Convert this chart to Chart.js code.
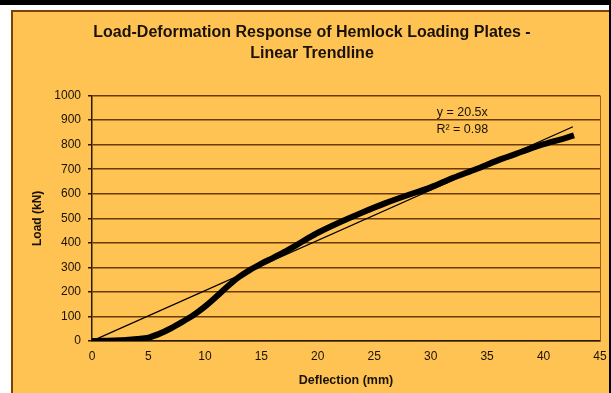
<!DOCTYPE html>
<html>
<head>
<meta charset="utf-8">
<script src="https://cdn.jsdelivr.net/npm/chart.js@4"></script>
<style>
  html, body { margin: 0; padding: 0; background: #fff; }
  #wrap { position: relative; width: 611px; height: 393px; overflow: hidden; }
  #topBand { position: absolute; left: 0; top: 0; width: 611px; height: 5px; background: #000; }
  #rightBand { position: absolute; left: 609px; top: 0; width: 2px; height: 393px; background: #000; }
  #box { position: absolute; left: 11px; top: 10px; width: 620px; height: 400px;
         background: #FFC354; border-left: 2px solid #7a4208; border-top: 2px solid #7a4208; }
  canvas { position: absolute; left: 0; top: 0; }
</style>
</head>
<body>
<div id="wrap">
  <div id="box"></div>
  <div id="topBand"></div>
  <div id="rightBand"></div>
  <canvas id="loadChart" width="611" height="393"></canvas>
</div>
<script>
const deflection = [0, 1, 2, 3, 4, 5, 6, 7, 8, 9, 10, 11, 12, 13, 14, 15, 16, 17, 18, 19, 20,
                    22, 24, 26, 28, 30, 32, 34, 36, 38, 40, 42, 42.7];
const load = [0, 1, 2, 4, 8, 14, 30, 52, 78, 106, 140, 180, 222, 260, 290, 315, 338, 362, 388, 415, 441,
              485, 525, 562, 595, 626, 665, 700, 737, 770, 802, 828, 838];

// Linear trendline y = 20.5x (end points)
const trendX = [0, 42.6];
const trendY = [0, 873];

const trendLabels = ['y = 20.5x', 'R² = 0.98'];
const labelX = [32.8, 32.8];
const labelY = [932, 863];

const xTicks = [0, 5, 10, 15, 20, 25, 30, 35, 40, 45];

const ctx = document.getElementById('loadChart').getContext('2d');
const textColor = '#1a1208';
const gridColor = '#6a3a05';
const fontFamily = '"Liberation Sans", Arial, sans-serif';

// Draws the trendline equation text at data coordinates
const equationPlugin = {
    id: 'equation',
    afterDatasetsDraw(chart) {
        const c = chart.ctx;
        const xs = chart.scales.x, ys = chart.scales.y;
        c.save();
        c.fillStyle = textColor;
        c.font = '12.5px ' + fontFamily;
        c.textAlign = 'center';
        c.textBaseline = 'middle';
        trendLabels.forEach((t, i) => {
            c.fillText(t, xs.getPixelForValue(labelX[i]), ys.getPixelForValue(labelY[i]));
        });
        c.restore();
    }
};

new Chart(ctx, {
    type: 'line',
    data: {
        datasets: [{
            label: 'Data',
            data: deflection.map((x, i) => ({ x: x, y: load[i] })),
            borderColor: '#000',
            borderWidth: 6,
            pointRadius: 0,
            cubicInterpolationMode: 'monotone',
            fill: false
        }, {
            label: 'Linear trendline',
            data: trendX.map((x, i) => ({ x: x, y: trendY[i] })),
            borderColor: '#000',
            borderWidth: 1.3,
            pointRadius: 0,
            fill: false
        }]
    },
    options: {
        responsive: false,
        animation: false,
        layout: { padding: { left: 24, top: 12, right: 11, bottom: 0 } },
        plugins: {
            legend: { display: false },
            tooltip: { enabled: false },
            title: {
                display: true,
                text: ['Load-Deformation Response of Hemlock Loading Plates -', 'Linear Trendline'],
                color: textColor,
                font: { family: fontFamily, size: 16, weight: 'bold', lineHeight: 1.3 },
                padding: { top: 10, bottom: 32 }
            }
        },
        scales: {
            x: {
                type: 'linear',
                min: 0,
                max: 45,
                afterBuildTicks: s => { s.ticks = xTicks.map(v => ({ value: v })); },
                afterFit: s => { s.height = 52; },
                grid: { display: false, drawOnChartArea: false, drawTicks: true, tickLength: 4, tickColor: '#2a1a05' },
                border: { color: '#2a1a05', width: 1.5 },
                ticks: { color: textColor, padding: 4, font: { family: fontFamily, size: 12 } },
                title: {
                    display: true,
                    text: 'Deflection (mm)',
                    color: textColor,
                    font: { family: fontFamily, size: 12.5, weight: 'bold', lineHeight: 1.2 },
                    padding: { top: 5, bottom: 5 }
                }
            },
            y: {
                min: 0,
                max: 1000,
                ticks: {
                    stepSize: 100, color: textColor, padding: 7,
                    font: { family: fontFamily, size: 12 },
                    callback: v => String(v)
                },
                afterFit: s => { s.width = 68; },
                grid: { color: gridColor, lineWidth: 1.5, tickLength: 4, tickColor: '#2a1a05' },
                border: { color: '#2a1a05', width: 1.5 },
                title: {
                    display: true,
                    text: 'Load (kN)',
                    color: textColor,
                    font: { family: fontFamily, size: 12, weight: 'bold', lineHeight: 1.2 },
                    padding: { top: 6, bottom: 6 }
                }
            }
        }
    },
    plugins: [equationPlugin, {
        // thin right border of plot area
        id: 'plotRight',
        afterDraw(chart) {
            const a = chart.chartArea, c = chart.ctx;
            c.save();
            c.strokeStyle = '#9a5f1c';
            c.lineWidth = 1;
            c.beginPath();
            c.moveTo(a.right + 0.5, a.top);
            c.lineTo(a.right + 0.5, a.bottom);
            c.stroke();
            c.restore();
        }
    }]
});
</script>
</body>
</html>
